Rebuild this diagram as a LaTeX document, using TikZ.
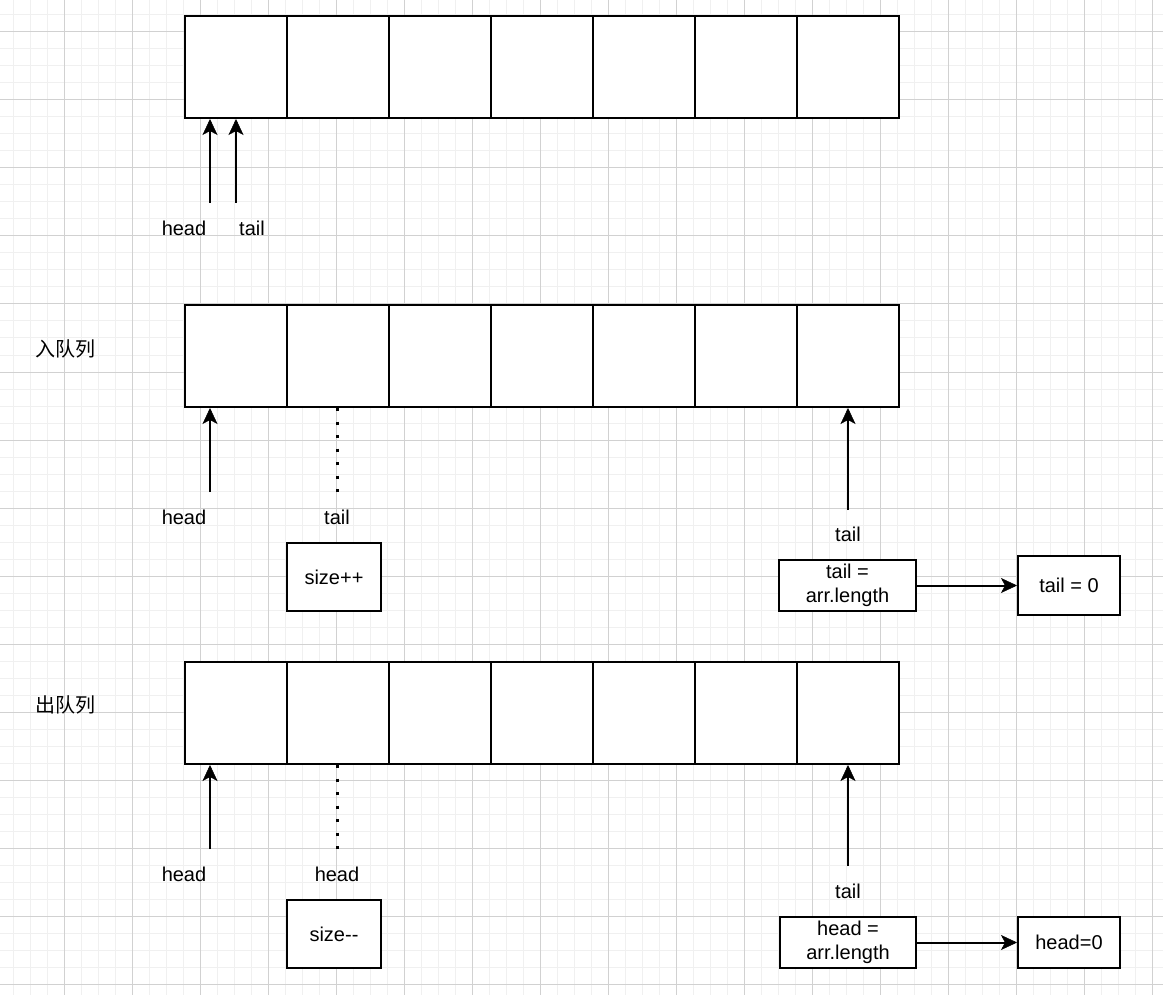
\documentclass[tikz,border=0pt]{standalone}
\usepackage{fontspec}
\setmainfont{Liberation Sans}[Ligatures=NoCommon]
\newfontfamily\cjk{Noto Sans CJK SC}
\usetikzlibrary{arrows.meta}
\begin{document}
\begin{tikzpicture}[x=1pt,y=-1pt,
  minorline/.style={draw=black!6,line width=1pt},
  majorline/.style={draw=black!18,line width=1pt},
  cell/.style={draw=black,line width=2pt,minimum width=102pt,minimum height=102pt,inner sep=0pt,fill=white},
  opbox/.style={draw=black,line width=2pt,inner sep=0pt,fill=white,align=center,font=\fontsize{20}{24}\selectfont},
  lbl/.style={inner sep=0pt,font=\fontsize{20}{24}\selectfont},
  arr/.style={line width=2pt,-{Stealth[length=16pt,width=15pt,inset=4pt,line width=0.5pt]}},
  dotline/.style={line width=3pt,dash pattern=on 3pt off 10.5pt}]
\useasboundingbox (0,0) rectangle (1163,995);
\fill[white] (0,0) rectangle (1163,995);
% grid
\foreach \i in {0,...,67} \draw[minorline] ({13+17*\i},0) -- ({13+17*\i},995);
\foreach \i in {0,...,57} \draw[minorline] (0,{15+17*\i}) -- (1163,{15+17*\i});
\foreach \i in {0,...,16} \draw[majorline] ({64+68*\i},0) -- ({64+68*\i},995);
\foreach \i in {0,...,14} \draw[majorline] (0,{32+68*\i}) -- (1163,{32+68*\i});
% arrays
\foreach \i in {1,...,7} {
  \node[cell] (a\i) at ({236+102*(\i-1)},67) {};
  \node[cell] (b\i) at ({236+102*(\i-1)},356) {};
  \node[cell] (c\i) at ({236+102*(\i-1)},713) {};
}
% row 1
\coordinate (ah) at (210,203);
\coordinate (at) at (236,203);
\draw[arr] (ah) -- (ah |- a1.south);
\draw[arr] (at) -- (at |- a1.south);
\node[lbl] (ahl) at (184,228) {head};
\node[lbl] (atl) at (252,228) {tail};
% row 2
\node[lbl,font=\cjk\fontsize{20}{24}\selectfont] (enq) at (65,349) {入队列};
\coordinate (bh) at (210,492);
\draw[arr] (bh) -- (bh |- b1.south);
\coordinate (bd) at (337,492);
\draw[dotline] (bd |- b2.south) -- (bd);
\node[lbl] (bhl) at (184,517) {head};
\node[lbl] (btl) at (337,517) {tail};
\node[opbox,minimum width=94pt,minimum height=68pt] (inc) at (334,577) {size++};
\coordinate (bt) at (848,510);
\draw[arr] (bt) -- (bt |- b7.south);
\node[lbl] (btr) at (848,534) {tail};
\node[opbox,minimum width=137pt,minimum height=51pt] (tlen) at (847.5,585.5) {tail =\\arr.length};
\node[opbox,minimum width=102pt,minimum height=59pt] (tzero) at (1069,585.5) {tail = 0};
\draw[arr] (tlen) -- (tzero);
% row 3
\node[lbl,font=\cjk\fontsize{20}{24}\selectfont] (deq) at (65,705) {出队列};
\coordinate (ch) at (210,849);
\draw[arr] (ch) -- (ch |- c1.south);
\coordinate (cd) at (337,849);
\draw[dotline] (cd |- c2.south) -- (cd);
\node[lbl] (chl) at (184,874) {head};
\node[lbl] (chd) at (337,874) {head};
\node[opbox,minimum width=94pt,minimum height=68pt] (dec) at (334,934) {size{-}{-}};
\coordinate (ct) at (848,866);
\draw[arr] (ct) -- (ct |- c7.south);
\node[lbl] (ctr) at (848,891) {tail};
\node[opbox,minimum width=136pt,minimum height=51pt] (hlen) at (848,942.5) {head =\\arr.length};
\node[opbox,minimum width=102pt,minimum height=51pt] (hzero) at (1069,942.5) {head=0};
\draw[arr] (hlen) -- (hzero);
\end{tikzpicture}
\end{document}
